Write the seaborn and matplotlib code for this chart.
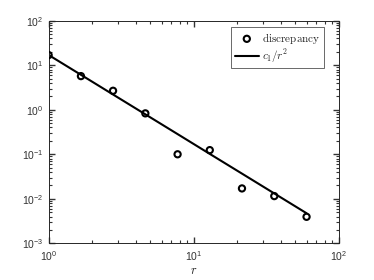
import matplotlib
matplotlib.use("Agg")
import matplotlib.pyplot as plt
import seaborn as sns
import pandas as pd

# discrepancy values
r = [1.0, 1.67, 2.78, 4.64, 7.74, 12.9, 21.5, 35.9, 59.9]
discrepancy = [16.9, 5.7, 2.67, 0.83, 0.10, 0.124, 0.0171, 0.0115, 0.00394]
# fitted c1/r^2 line (c1 ~ 17)
fit = [17.0, 6.1, 2.2, 0.79, 0.284, 0.102, 0.0368, 0.0132, 0.00474]

df = pd.DataFrame({"r": r, "discrepancy": discrepancy, "fit": fit})

sns.set_style("white")
edge = "#262626"
plt.rcParams["font.family"] = ["Liberation Sans", "DejaVu Sans"]
plt.rcParams["mathtext.fontset"] = "cm"

fig = plt.figure(figsize=(3.74, 2.8), dpi=100)
ax = fig.add_axes([0.130, 0.131, 0.776, 0.795])

sns.scatterplot(data=df, x="r", y="discrepancy", ax=ax, marker="o",
                facecolor="none", edgecolor="black", linewidth=1.5, s=20,
                label=r"$\mathrm{discrepancy}$", zorder=3)
sns.lineplot(data=df, x="r", y="fit", ax=ax, color="black", linewidth=1.5,
             label=r"$c_1/r^2$", zorder=2)

ax.set_xscale("log")
ax.set_yscale("log")
ax.set_xlim(1, 100)
ax.set_ylim(1e-3, 1e2)

for s in ax.spines.values():
    s.set_color(edge)
    s.set_linewidth(0.7)
ax.tick_params(which="both", direction="in", top=True, right=True,
               bottom=True, left=True, colors="#333333", labelsize=7.5)
ax.tick_params(which="major", length=4.5, width=1.0)
ax.tick_params(which="minor", length=2.5, width=0.8)
ax.tick_params(axis="x", pad=4)

ax.set_xlabel(r"$r$", fontsize=9, labelpad=2)
ax.set_ylabel("")

leg = ax.legend(loc="upper right", bbox_to_anchor=(0.949, 0.970),
                fontsize=8, frameon=True, fancybox=False,
                edgecolor=edge, borderaxespad=0, handlelength=2.2,
                handletextpad=0.3, borderpad=0.3, labelspacing=0.15)
leg.get_frame().set_linewidth(0.6)

fig.savefig("out.png", dpi=100)
